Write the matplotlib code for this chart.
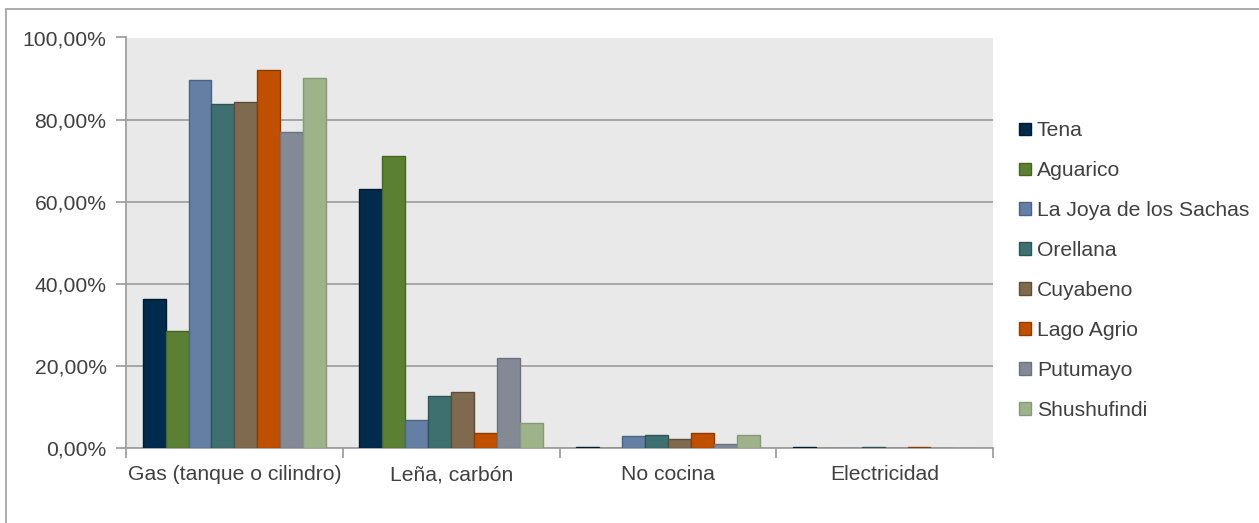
import matplotlib
matplotlib.use("Agg")
import matplotlib.pyplot as plt
import numpy as np
from matplotlib.patches import Rectangle
from matplotlib.ticker import FuncFormatter, FixedLocator

categories = ["Gas (tanque o cilindro)", "Leña, carbón", "No cocina", "Electricidad"]
series = ["Tena", "Aguarico", "La Joya de los Sachas", "Orellana",
          "Cuyabeno", "Lago Agrio", "Putumayo", "Shushufindi"]
tena = [36.2, 63.2, 0.3, 0.2]
aguarico = [28.6, 71.1, 0.0, 0.0]
la_joya = [89.6, 6.7, 2.9, 0.1]
orellana = [83.7, 12.6, 3.2, 0.2]
cuyabeno = [84.2, 13.6, 2.1, 0.0]
lago_agrio = [92.1, 3.6, 3.7, 0.2]
putumayo = [76.9, 22.0, 1.0, 0.0]
shushufindi = [90.2, 6.2, 3.1, 0.1]
values = [tena, aguarico, la_joya, orellana, cuyabeno, lago_agrio, putumayo, shushufindi]

colors = ["#002B4C", "#5B7F33", "#647FA3", "#3E7070", "#7F6A4F", "#C05000", "#838A95", "#9FB38A"]
edges = ["#001A30", "#46661F", "#4A6488", "#2C5555", "#5E4E38", "#8E3C00", "#6C727C", "#86997A"]

plt.rcParams['font.family'] = ['Liberation Sans', 'DejaVu Sans']
FS = 15.2

W, H = 1259, 523
fig = plt.figure(figsize=(W / 100, H / 100), dpi=100)
ax_l, ax_r, ax_t, ax_b = 126, 993, 37.5, 448
ax = fig.add_axes([ax_l / W, 1 - ax_b / H, (ax_r - ax_l) / W, (ax_b - ax_t) / H])

# outer border
fig.patches.append(Rectangle((6 / W, -0.1), 1.2, 1 - 8.5 / H + 0.1, transform=fig.transFigure,
                             fill=False, edgecolor="#A6A6A6", lw=1.3))

n = len(series)
bw = 1.0 / (n + 1.45)
x = np.arange(len(categories))
for i, (s, v) in enumerate(zip(series, values)):
    offs = (i - (n - 1) / 2) * bw
    ax.bar(x + offs, v, width=bw, color=colors[i], edgecolor=edges[i], linewidth=1.0,
           label=s, zorder=3)

ax.set_facecolor("#E8E9E8")
ax.set_xlim(-0.5, len(categories) - 0.5)
ax.set_ylim(0, 100)
ax.set_yticks(np.arange(0, 101, 20))
ax.yaxis.set_major_formatter(FuncFormatter(lambda v, p: f"{v:.2f}%".replace(".", ",")))
ax.grid(axis="y", color="#A0A0A0", lw=1.3, zorder=1)
ax.set_axisbelow(True)

ax.xaxis.set_major_locator(FixedLocator(np.arange(-0.5, len(categories), 1.0)))
ax.xaxis.set_minor_locator(FixedLocator(x))
ax.set_xticklabels([])
ax.set_xticklabels(categories, minor=True)
ax.tick_params(axis="x", which="major", length=7, width=1.3, color="#A0A0A0", direction="out")
ax.tick_params(axis="x", which="minor", length=0, pad=12.5, labelsize=FS, labelcolor="#404040")
ax.tick_params(axis="y", length=7, width=1.3, color="#A0A0A0", direction="out", pad=7,
               labelsize=FS, labelcolor="#404040")

for side in ["top", "right"]:
    ax.spines[side].set_visible(False)
for side in ["left", "bottom"]:
    ax.spines[side].set_color("#A0A0A0")
    ax.spines[side].set_linewidth(1.3)

leg = ax.legend(loc="upper left", bbox_to_anchor=(1011 / W, 1 - 113 / H),
                bbox_transform=fig.transFigure, frameon=False, fontsize=FS,
                handlelength=0.55, handleheight=0.55, handletextpad=0.27,
                labelspacing=0.99, borderaxespad=0)
for t in leg.get_texts():
    t.set_color("#404040")

fig.savefig("out.png", dpi=100, facecolor="white")
